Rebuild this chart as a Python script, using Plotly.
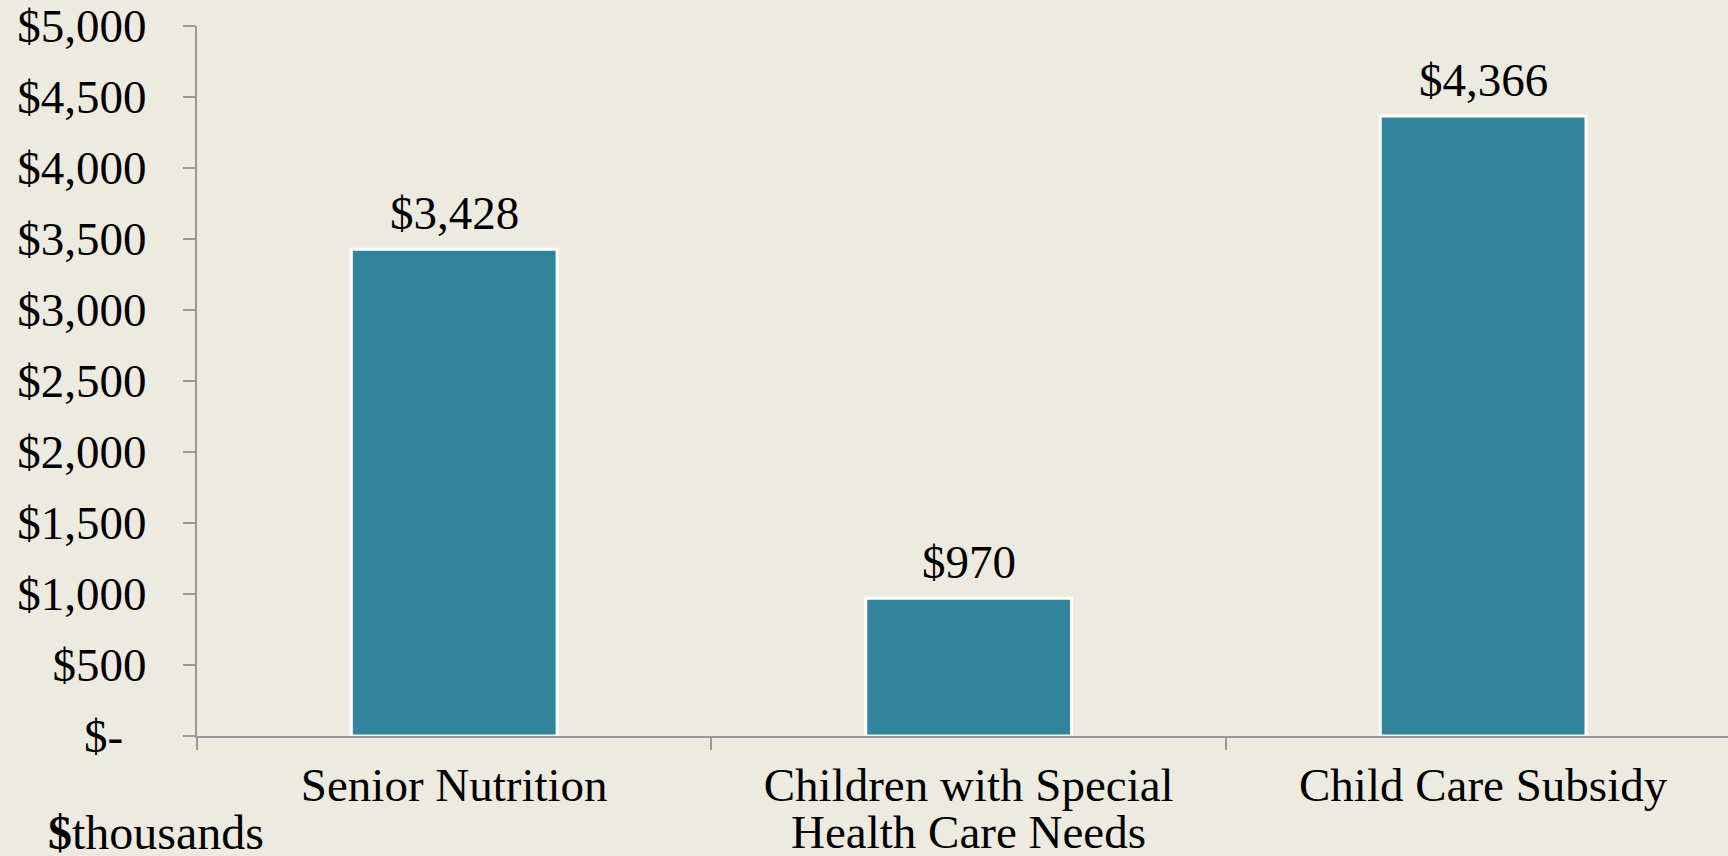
import plotly.graph_objects as go

# chart values ($ thousands)
programs = ["Senior Nutrition", "Children with Special", "Child Care Subsidy"]
program_second_line = ["", "Health Care Needs", ""]
amounts = [3428, 970, 4366]
amount_labels = ["$3,428", "$970", "$4,366"]
y_ticks = [0, 500, 1000, 1500, 2000, 2500, 3000, 3500, 4000, 4500, 5000]
y_tick_labels = ["$-\u00a0\u00a0", "$500", "$1,000", "$1,500", "$2,000", "$2,500",
                 "$3,000", "$3,500", "$4,000", "$4,500", "$5,000"]

FONT = "Liberation Serif"
SIZE = 47
BG = "#EDEBE0"
AXIS = "#999999"

fig = go.Figure()
fig.add_trace(
    go.Bar(
        x=programs,
        y=amounts,
        marker=dict(color="#31849B", line=dict(color="white", width=3)),
        width=0.4,
        hoverinfo="skip",
    )
)

# value labels above the bars
notes = [
    dict(
        x=p, y=v, text=t,
        xref="x", yref="y",
        yanchor="bottom", yshift=8,
        showarrow=False,
        font=dict(family=FONT, size=SIZE, color="black"),
    )
    for p, v, t in zip(programs, amounts, amount_labels)
]

# second line of the wrapped category label (tighter line spacing than plotly's <br>)
for p, t in zip(programs, program_second_line):
    if t:
        notes.append(
            dict(
                x=p, y=-0.135, text=t,
                xref="x", yref="paper",
                yanchor="middle",
                showarrow=False,
                font=dict(family=FONT, size=SIZE, color="black"),
            )
        )

notes.append(
    dict(
        text="<b>$</b>thousands",
        xref="paper", yref="paper",
        x=-0.0986, y=-0.136,
        xanchor="left", yanchor="middle",
        showarrow=False,
        font=dict(family=FONT, size=48, color="black"),
    )
)

fig.update_layout(
    width=1728,
    height=856,
    margin=dict(l=197, r=0, t=26, b=120),
    paper_bgcolor=BG,
    plot_bgcolor=BG,
    showlegend=False,
    font=dict(family=FONT, size=SIZE, color="black"),
    xaxis=dict(
        type="category",
        range=[-0.5, 2.476],
        automargin=False,
        showline=True,
        linecolor=AXIS,
        linewidth=2,
        ticks="outside",
        tickson="boundaries",
        ticklen=12,
        tickcolor=AXIS,
        tickwidth=1.5,
        showgrid=False,
        ticklabelstandoff=7,
        tickfont=dict(family=FONT, size=SIZE),
    ),
    yaxis=dict(
        range=[0, 5000],
        automargin=False,
        tickvals=y_ticks,
        ticktext=y_tick_labels,
        showline=True,
        linecolor=AXIS,
        linewidth=2,
        ticks="outside",
        ticklen=12,
        tickcolor=AXIS,
        tickwidth=1.5,
        showgrid=False,
        zeroline=False,
        ticklabelstandoff=27,
        tickfont=dict(family=FONT, size=SIZE),
    ),
    annotations=notes,
)

fig.write_html(
    "out.html",
    config={"displayModeBar": False},
    post_script="document.body.style.margin='0';",
)
